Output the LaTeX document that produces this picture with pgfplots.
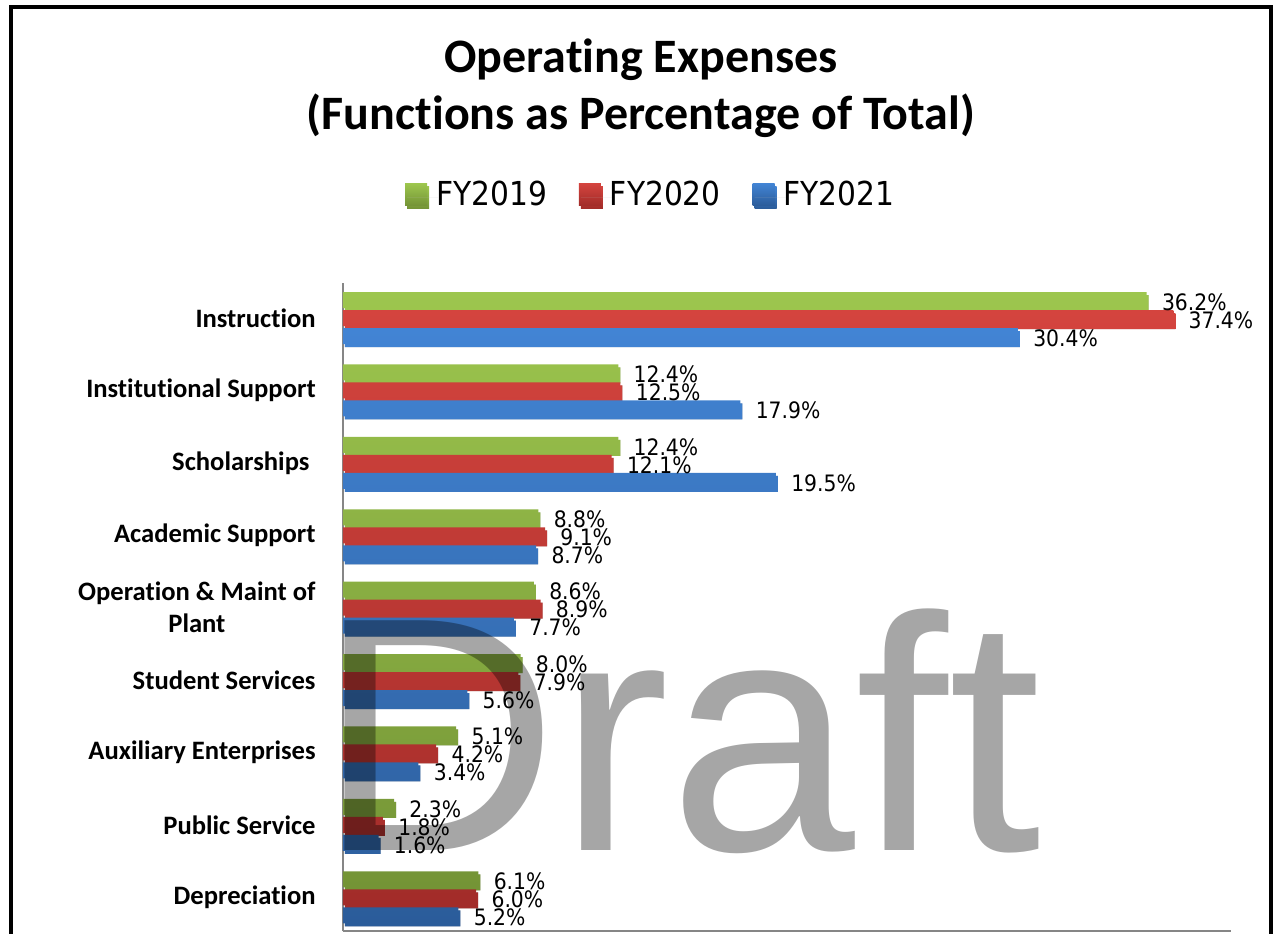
\documentclass[border=0pt]{standalone}
\usepackage{fontspec}
\setmainfont{Carlito}[Ligatures={NoCommon,NoContextual,NoRare}]
\newfontfamily\labelfont{DejaVu Sans Condensed}
\newfontfamily\draftfont{Liberation Sans}
\usepackage{pgfplots}
\pgfplotsset{compat=1.18}
\definecolor{gTop}{RGB}{157,198,78}
\definecolor{gBot}{RGB}{116,148,54}
\definecolor{rTop}{RGB}{212,68,62}
\definecolor{rBot}{RGB}{162,44,41}
\definecolor{bTop}{RGB}{66,132,212}
\definecolor{bBot}{RGB}{43,92,154}
\definecolor{axgray}{RGB}{134,134,134}
\begin{document}
\begin{tikzpicture}[x=1pt,y=1pt]
\useasboundingbox (0,0) rectangle (637.5,466.5);
\begin{axis}[
  at={(171.5pt,0.85pt)}, anchor=south west,
  scale only axis, width=444pt, height=324pt,
  xbar, bar width=8pt,
  xmin=0, xmax=40, ymin=-0.47, ymax=8.48,
  axis lines*=left,
  axis line style={axgray, line width=1pt},
  xtick=\empty,
  ytick={0,...,8},
  major tick length=0pt,
  yticklabels={Depreciation, Public Service, Auxiliary Enterprises, Student Services, {Operation \& Maint of\\Plant}, Academic Support, {Scholarships\hspace{0.23em}}, Institutional Support, Instruction},
  yticklabel style={font=\bfseries\fontsize{13.3}{16}\selectfont, align=center, inner sep=0pt, xshift=-13.5pt},
  clip=false,
  nodes near coords={\pgfmathprintnumber[assume math mode=true,fixed,fixed zerofill,precision=1]{\pgfplotspointmeta}\%},
  every node near coord/.append style={font=\labelfont\fontsize{11.3}{13}\selectfont, anchor=west, inner sep=0pt, xshift=7.5pt, yshift=-1pt, text=black},
  legend style={draw=none, fill=none, at={(axis description cs:0.3455,1.137)}, anchor=center, legend columns=3, font=\labelfont\fontsize{16.5}{19}\selectfont, nodes={inner sep=0pt}, /tikz/every even column/.append style={column sep=16pt}},
  legend image code/.code={\path[#1,draw=none] (0pt,-5.5pt) rectangle (11pt,5.5pt); \path (0pt,0pt) -- (15.5pt,0pt);},
]
\addplot[draw=none, top color=gTop, bottom color=gBot, bar shift=9pt, preaction={fill=black!25, transform canvas={xshift=1pt,yshift=-1.5pt}}] coordinates {
 (6.1,0) (2.3,1) (5.1,2) (8.0,3) (8.6,4) (8.8,5) (12.4,6) (12.4,7) (36.2,8)};
\addlegendentry{FY2019}
\addplot[draw=none, top color=rTop, bottom color=rBot, bar shift=0pt, preaction={fill=black!25, transform canvas={xshift=1pt,yshift=-1.5pt}}] coordinates {
 (6.0,0) (1.8,1) (4.2,2) (7.9,3) (8.9,4) (9.1,5) (12.1,6) (12.5,7) (37.4,8)};
\addlegendentry{FY2020}
\addplot[draw=none, top color=bTop, bottom color=bBot, bar shift=-9pt, preaction={fill=black!25, transform canvas={xshift=1pt,yshift=-1.5pt}}] coordinates {
 (5.2,0) (1.6,1) (3.4,2) (5.6,3) (7.7,4) (8.7,5) (19.5,6) (17.9,7) (30.4,8)};
\addlegendentry{FY2021}
\end{axis}
\node[anchor=base, font=\bfseries\fontsize{24}{29}\selectfont, inner sep=0pt] at (320.5,430.25) {Operating Expenses};
\node[anchor=base, font=\bfseries\fontsize{24}{29}\selectfont, inner sep=0pt] at (320.5,401.5) {(Functions as Percentage of Total)};
\node[anchor=base west, inner sep=0pt, font=\draftfont\fontsize{167}{167}\selectfont, text=black, opacity=0.35] at (158.5,41.5) {Draft};
\draw[line width=2pt, black] (5.25,-2) -- (5.25,463) -- (635.5,463) -- (635.5,-2);
\end{tikzpicture}
\end{document}
